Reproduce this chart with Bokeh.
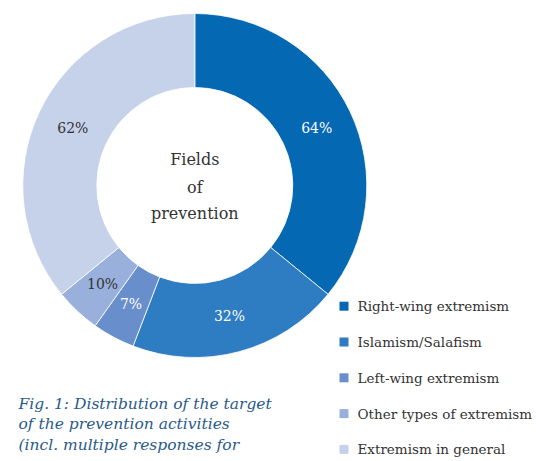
import math
from bokeh.plotting import figure
from bokeh.models import Range1d, ColumnDataSource
from bokeh.core.properties import value
from bokeh.embed import file_html
from bokeh.resources import INLINE

# ---- data ----
categories = ["Right-wing extremism", "Islamism/Salafism", "Left-wing extremism",
              "Other types of extremism", "Extremism in general"]
percent_labels = [64, 32, 7, 10, 62]           # printed values
arc_shares = [63, 35, 7, 7.5, 63]              # wedge sizes
colors = ["#0468b3", "#2e7cc1", "#688ecb", "#98b0db", "#c5d2ea"]
label_colors = ["white", "white", "white", "#333333", "#333333"]
center_lines = ["Fields", "of", "prevention"]
caption_lines = ["Fig. 1: Distribution of the target",
                 "of the prevention activities",
                 "(incl. multiple responses for"]

W, H = 536, 461
FONT = "DejaVu Serif"

p = figure(width=W, height=H, output_backend="svg", toolbar_location=None,
           x_range=Range1d(0, W), y_range=Range1d(0, H), min_border=0)
p.axis.visible = False
p.grid.visible = False
p.outline_line_color = None
p.background_fill_color = "white"
p.border_fill_color = "white"

cx, cy = 194.3, 276.0
r_in, r_out = 98.0, 172.0

total = sum(arc_shares)
starts, ends, lx, ly, texts = [], [], [], [], []
cum = 0.0
for s, lab in zip(arc_shares, percent_labels):
    a0 = cum / total * 2 * math.pi
    cum += s
    a1 = cum / total * 2 * math.pi
    # clockwise from 12 o'clock
    starts.append(math.pi / 2 - a1)
    ends.append(math.pi / 2 - a0)
    mid = math.pi / 2 - (a0 + a1) / 2
    rm = (r_in + r_out) / 2
    lx.append(cx + rm * math.cos(mid))
    ly.append(cy + rm * math.sin(mid))
    texts.append(f"{lab}%")

src = ColumnDataSource(dict(start=starts, end=ends, color=colors))
p.annular_wedge(x=cx, y=cy, inner_radius=r_in, outer_radius=r_out,
                start_angle="start", end_angle="end", fill_color="color",
                line_color="white", line_width=0.8, source=src)

p.text(x=lx, y=ly, text=texts, text_color=label_colors,
       text_font=value(FONT), text_font_size="14px",
       text_align="center", text_baseline="middle")

# center text
p.text(x=[cx] * 3, y=[cy + 26, cy - 1.7, cy - 27.7], text=center_lines,
       text_color="#333333", text_font=value(FONT), text_font_size="16px",
       text_align="center", text_baseline="middle")

# legend
n = len(categories)
leg_y = [155.3 - i * 35.8 for i in range(n)]
p.scatter(x=[343.5] * n, y=leg_y, marker="square", size=9, fill_color=colors,
          line_color=None)
p.text(x=[357] * n, y=leg_y, text=categories, text_color="#333333",
       text_font=value(FONT), text_font_size="13.5px",
       text_align="left", text_baseline="middle")

# caption
p.text(x=[18] * 3, y=[58, 37.3, 16.5], text=caption_lines, text_color="#2a5a8c",
       text_font=value(FONT), text_font_size="15.5px", text_font_style="italic",
       text_align="left", text_baseline="alphabetic")

open("out.html", "w").write(file_html(p, INLINE))
